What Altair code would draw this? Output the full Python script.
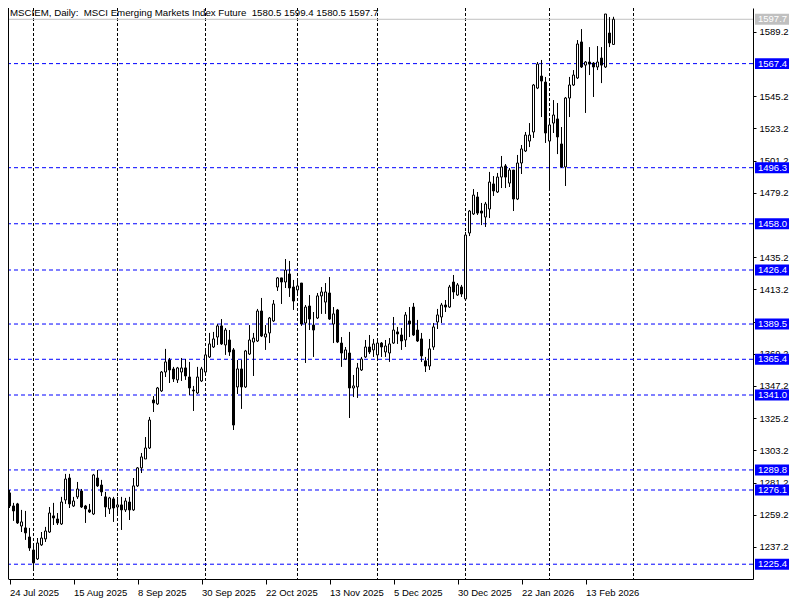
import altair as alt
import pandas as pd

FONT = "Liberation Sans"

opens = [
    1274.1, 1265.2, 1266.6, 1251.5, 1250.2, 1244.0, 1235.1, 1229.0, 1238.6, 1242.7,
    1247.4, 1258.4, 1256.3, 1252.9, 1269.3, 1284.3, 1265.2, 1271.4, 1275.4, 1265.2,
    1262.5, 1259.7, 1284.3, 1279.5, 1271.4, 1263.2, 1270.0, 1264.5, 1265.9, 1262.5,
    1267.9, 1262.5, 1278.9, 1291.2, 1297.3, 1304.8, 1337.6, 1334.9, 1343.8, 1356.7,
    1364.9, 1358.8, 1351.3, 1356.7, 1359.5, 1353.3, 1344.4, 1342.4, 1350.6, 1356.7,
    1367.0, 1373.8, 1380.6, 1388.2, 1375.2, 1378.6, 1371.8, 1346.5, 1358.8, 1346.5,
    1369.0, 1377.2, 1377.9, 1398.4, 1380.6, 1383.4, 1391.6, 1414.8, 1421.0, 1418.2,
    1423.7, 1414.8, 1412.8, 1417.5, 1390.2, 1401.8, 1388.8, 1393.6, 1408.7, 1404.5,
    1410.7, 1389.5, 1399.1, 1376.5, 1365.6, 1369.7, 1345.8, 1346.5, 1358.1, 1367.0,
    1373.8, 1371.8, 1368.4, 1376.5, 1370.4, 1369.7, 1376.5, 1384.1, 1382.0, 1378.6,
    1391.6, 1401.1, 1385.4, 1379.3, 1364.3, 1360.8, 1373.8, 1390.9, 1394.3, 1402.5,
    1401.1, 1418.2, 1409.3, 1414.8, 1406.6, 1451.7, 1464.7, 1476.3, 1466.7, 1462.6,
    1468.1, 1485.2, 1479.7, 1489.9, 1497.5, 1485.8, 1494.7, 1474.9, 1499.5, 1507.7,
    1514.5, 1520.7, 1550.7, 1558.9, 1554.8, 1514.5, 1526.8, 1529.6, 1512.5, 1496.8,
    1543.9, 1552.8, 1557.6, 1582.2, 1566.4, 1568.5, 1567.8, 1565.1, 1571.2, 1565.1,
    1588.3, 1580.5,
]

highs = [
    1276.1, 1267.3, 1267.3, 1262.5, 1261.8, 1250.2, 1239.9, 1243.3, 1247.4, 1250.9,
    1264.5, 1267.3, 1260.4, 1271.4, 1287.1, 1287.1, 1271.4, 1281.6, 1276.8, 1265.9,
    1266.6, 1287.1, 1289.8, 1283.0, 1274.8, 1271.4, 1271.4, 1271.4, 1271.4, 1270.7,
    1271.4, 1284.3, 1291.8, 1301.4, 1312.3, 1326.0, 1340.3, 1346.5, 1357.4, 1372.5,
    1366.3, 1360.2, 1360.2, 1366.3, 1365.6, 1363.6, 1347.2, 1360.2, 1360.2, 1371.8,
    1383.4, 1384.1, 1389.5, 1392.9, 1386.8, 1385.4, 1373.1, 1364.9, 1364.9, 1371.8,
    1388.8, 1383.4, 1399.8, 1407.3, 1388.8, 1394.3, 1405.9, 1421.6, 1421.0, 1433.9,
    1432.6, 1419.6, 1420.3, 1417.5, 1402.5, 1409.3, 1397.7, 1410.7, 1414.8, 1417.5,
    1421.6, 1401.1, 1399.8, 1380.6, 1373.8, 1384.1, 1354.7, 1362.9, 1367.0, 1378.6,
    1382.0, 1379.3, 1378.6, 1377.2, 1378.6, 1379.9, 1394.3, 1387.5, 1386.8, 1397.7,
    1401.1, 1403.9, 1392.3, 1383.4, 1367.0, 1379.3, 1390.2, 1399.8, 1403.9, 1405.9,
    1416.2, 1423.0, 1417.5, 1416.2, 1452.4, 1467.4, 1481.7, 1479.7, 1472.2, 1472.9,
    1493.4, 1490.6, 1492.7, 1504.3, 1498.8, 1496.1, 1494.7, 1505.0, 1511.8, 1520.7,
    1526.8, 1553.5, 1568.5, 1569.9, 1558.3, 1530.2, 1542.5, 1540.5, 1524.1, 1544.6,
    1558.3, 1563.0, 1583.5, 1591.0, 1569.2, 1578.7, 1568.5, 1579.4, 1578.7, 1601.3,
    1599.2, 1599.4,
]

lows = [
    1263.8, 1255.0, 1252.9, 1247.4, 1242.0, 1234.5, 1221.5, 1228.3, 1237.9, 1240.6,
    1246.8, 1252.2, 1252.2, 1252.2, 1266.6, 1263.8, 1264.5, 1270.0, 1263.8, 1253.6,
    1260.4, 1259.0, 1278.2, 1272.0, 1257.7, 1259.7, 1254.3, 1259.0, 1248.8, 1261.1,
    1255.6, 1261.8, 1278.2, 1287.7, 1297.3, 1304.1, 1329.4, 1334.2, 1343.1, 1353.3,
    1349.2, 1349.9, 1349.2, 1350.6, 1351.3, 1341.0, 1330.1, 1341.7, 1349.9, 1356.1,
    1366.3, 1373.1, 1375.2, 1375.2, 1368.4, 1367.7, 1317.1, 1341.7, 1331.5, 1345.8,
    1368.4, 1354.0, 1377.2, 1380.6, 1371.8, 1376.5, 1390.9, 1412.1, 1403.2, 1414.1,
    1408.0, 1399.1, 1410.7, 1388.2, 1362.9, 1385.4, 1367.0, 1392.9, 1396.4, 1396.4,
    1392.3, 1376.5, 1376.5, 1360.2, 1364.9, 1325.3, 1339.6, 1339.0, 1357.4, 1366.3,
    1369.0, 1367.0, 1366.3, 1367.0, 1367.0, 1363.6, 1375.9, 1375.9, 1371.8, 1373.8,
    1380.6, 1381.3, 1377.2, 1363.6, 1356.7, 1358.1, 1371.8, 1386.1, 1390.2, 1397.7,
    1400.5, 1406.6, 1408.7, 1408.0, 1405.9, 1449.6, 1464.0, 1464.0, 1457.1, 1455.8,
    1461.9, 1477.0, 1479.0, 1482.4, 1482.4, 1483.1, 1466.7, 1474.2, 1492.0, 1507.0,
    1510.4, 1516.6, 1550.0, 1530.9, 1513.2, 1481.0, 1520.0, 1505.6, 1496.1, 1483.8,
    1530.9, 1552.1, 1556.9, 1564.4, 1533.7, 1559.6, 1544.6, 1563.0, 1554.1, 1564.4,
    1578.7, 1580.5,
]

closes = [
    1265.2, 1261.8, 1253.6, 1254.3, 1246.8, 1236.5, 1226.3, 1239.9, 1243.3, 1248.1,
    1260.4, 1257.0, 1253.6, 1267.9, 1283.6, 1266.6, 1268.6, 1276.8, 1264.5, 1263.2,
    1261.1, 1286.4, 1278.9, 1274.8, 1264.5, 1270.7, 1263.8, 1265.9, 1262.5, 1268.6,
    1262.5, 1278.9, 1291.2, 1298.7, 1304.8, 1323.9, 1335.6, 1345.8, 1356.7, 1363.6,
    1358.1, 1352.0, 1359.5, 1359.5, 1354.0, 1345.8, 1343.8, 1353.3, 1358.8, 1368.4,
    1375.9, 1379.3, 1388.2, 1375.9, 1385.4, 1370.4, 1320.5, 1358.8, 1346.5, 1371.1,
    1378.6, 1379.9, 1398.4, 1381.3, 1382.7, 1393.6, 1403.2, 1421.0, 1418.2, 1426.4,
    1414.1, 1405.2, 1415.5, 1389.5, 1401.1, 1392.9, 1385.4, 1408.7, 1411.4, 1411.4,
    1392.9, 1396.4, 1377.2, 1369.7, 1371.8, 1345.8, 1347.2, 1359.5, 1365.6, 1373.8,
    1370.4, 1375.9, 1376.5, 1373.8, 1374.5, 1375.9, 1385.4, 1382.7, 1377.9, 1395.7,
    1389.5, 1382.0, 1377.9, 1367.7, 1360.8, 1372.5, 1387.5, 1395.7, 1402.5, 1401.1,
    1414.8, 1411.4, 1416.2, 1410.0, 1450.3, 1466.7, 1477.6, 1465.3, 1465.3, 1471.5,
    1486.5, 1480.4, 1489.9, 1496.8, 1489.9, 1494.7, 1474.9, 1499.5, 1509.1, 1518.6,
    1518.6, 1552.8, 1567.1, 1555.5, 1520.0, 1525.5, 1532.3, 1517.3, 1496.8, 1543.9,
    1552.8, 1559.6, 1580.8, 1565.1, 1568.5, 1567.1, 1565.1, 1568.5, 1566.4, 1601.3,
    1581.5, 1597.7,
]

x_tick_pos = [0, 16, 32, 48, 64, 80, 96, 112, 128, 144]
x_tick_labels = ["24 Jul 2025", "15 Aug 2025", "8 Sep 2025", "30 Sep 2025", "22 Oct 2025",
                 "13 Nov 2025", "5 Dec 2025", "30 Dec 2025", "22 Jan 2026", "13 Feb 2026"]
month_grid_pos = [6, 27, 49, 72, 92, 114, 135, 156]
# price scale ticks (1567.2 and 1457.2 are fully covered by level tags in the reference)
y_ticks = [1237.2, 1259.2, 1281.2, 1303.2, 1325.2, 1347.2, 1369.2, 1391.2, 1413.2,
           1435.2, 1479.2, 1501.2, 1523.2, 1545.2, 1589.2]
levels = [1567.4, 1496.3, 1458.0, 1426.4, 1389.5, 1365.4, 1341.0, 1289.8, 1276.1, 1225.4]
current_price = [1597.7]
title_text = "MSCIEM, Daily:\u00a0 MSCI Emerging Markets Index Future\u00a0 1580.5 1599.4 1580.5 1597.7"

W, H = 745, 571
BLUE = "#0000FF"
FS = 9.5

df = pd.DataFrame({"i": list(range(len(opens))), "o": opens, "h": highs, "l": lows, "c": closes})

xs = alt.Scale(domain=[-0.375, -0.375 + W / 4], nice=False, zero=False, padding=0)
ys = alt.Scale(domain=[1215.3, 1605.4], nice=False, zero=False, padding=0)

label_expr = "[" + ",".join("'" + s + "'" for s in x_tick_labels) + "][round(datum.value/16)]"
x_axis = alt.Axis(values=x_tick_pos, labelExpr=label_expr, labelAlign="left", labelPadding=3,
                  tickSize=5, domainColor="black", tickColor="black", labelColor="black",
                  labelFont=FONT, labelFontSize=FS, grid=False, title=None,
                  labelFlush=False, labelOverlap=False)
y_axis = alt.Axis(orient="right", values=y_ticks, format=".1f", tickSize=3, labelPadding=3,
                  domainColor="black", tickColor="black", labelColor="black",
                  labelFont=FONT, labelFontSize=FS, grid=False, title=None,
                  labelOverlap=False, labelFlush=False)


def X(field):
    return alt.X(field, scale=xs, axis=x_axis)


def Y(field):
    return alt.Y(field, scale=ys, axis=y_axis)


grid = alt.Chart(pd.DataFrame({"g": month_grid_pos})).mark_rule(
    color="black", strokeDash=[3, 2], strokeWidth=1
).encode(x=X("g:Q"))

ldf = pd.DataFrame({"v": levels})
lvl_lines = alt.Chart(ldf).mark_rule(color=BLUE, strokeDash=[4, 3], strokeWidth=1).encode(
    y=Y("v:Q"))

cdf = pd.DataFrame({"v": current_price})
cur_line = alt.Chart(cdf).mark_rule(color="#C0C0C0", strokeWidth=1).encode(y=Y("v:Q"))

wicks = alt.Chart(df).mark_rule(color="black", strokeWidth=1).encode(
    x=X("i:Q"), y=Y("l:Q"), y2="h:Q")

bodies = alt.Chart(df).mark_bar(width=2, stroke="black", strokeWidth=1).encode(
    x=X("i:Q"),
    y=Y("o:Q"),
    y2="c:Q",
    fill=alt.condition("datum.c >= datum.o", alt.value("white"), alt.value("black")),
)

BOX = "M-1,-0.32L1,-0.32L1,0.32L-1,0.32Z"
lvl_boxes = alt.Chart(ldf).mark_point(shape=BOX, filled=True, size=34 * 34, color=BLUE,
                                      opacity=1, strokeWidth=0).encode(
    x=alt.value(W + 19), y=Y("v:Q"))
lvl_text = alt.Chart(ldf).mark_text(align="left", baseline="middle", color="white",
                                    font=FONT, fontSize=FS).encode(
    x=alt.value(W + 5), y=Y("v:Q"), text=alt.Text("v:Q", format=".1f"))

cur_box = alt.Chart(cdf).mark_point(shape=BOX, filled=True, size=34 * 34, color="#C0C0C0",
                                    opacity=1, strokeWidth=0).encode(
    x=alt.value(W + 19), y=Y("v:Q"))
cur_text = alt.Chart(cdf).mark_text(align="left", baseline="middle", color="white",
                                    font=FONT, fontSize=FS).encode(
    x=alt.value(W + 5), y=Y("v:Q"), text=alt.Text("v:Q", format=".1f"))

title = alt.Chart(pd.DataFrame({"t": [title_text]})).mark_text(
    align="left", baseline="middle", color="black", font=FONT, fontSize=9.7
).encode(x=alt.value(2), y=alt.value(5), text="t:N")

left_border = alt.Chart(pd.DataFrame({"a": [0]})).mark_rule(color="black", strokeWidth=1).encode(
    x=alt.value(0.5))

chart = alt.layer(
    grid, lvl_lines, cur_line, wicks, bodies, lvl_boxes, lvl_text, cur_box, cur_text, title, left_border
).properties(
    width=W, height=H,
    autosize=alt.AutoSizeParams(type="none"),
    padding={"left": 0, "top": 0, "right": 39, "bottom": 20},
    background="white",
).configure_view(stroke=None)

chart.save("out.html", embed_options={"renderer": "svg", "actions": False})
